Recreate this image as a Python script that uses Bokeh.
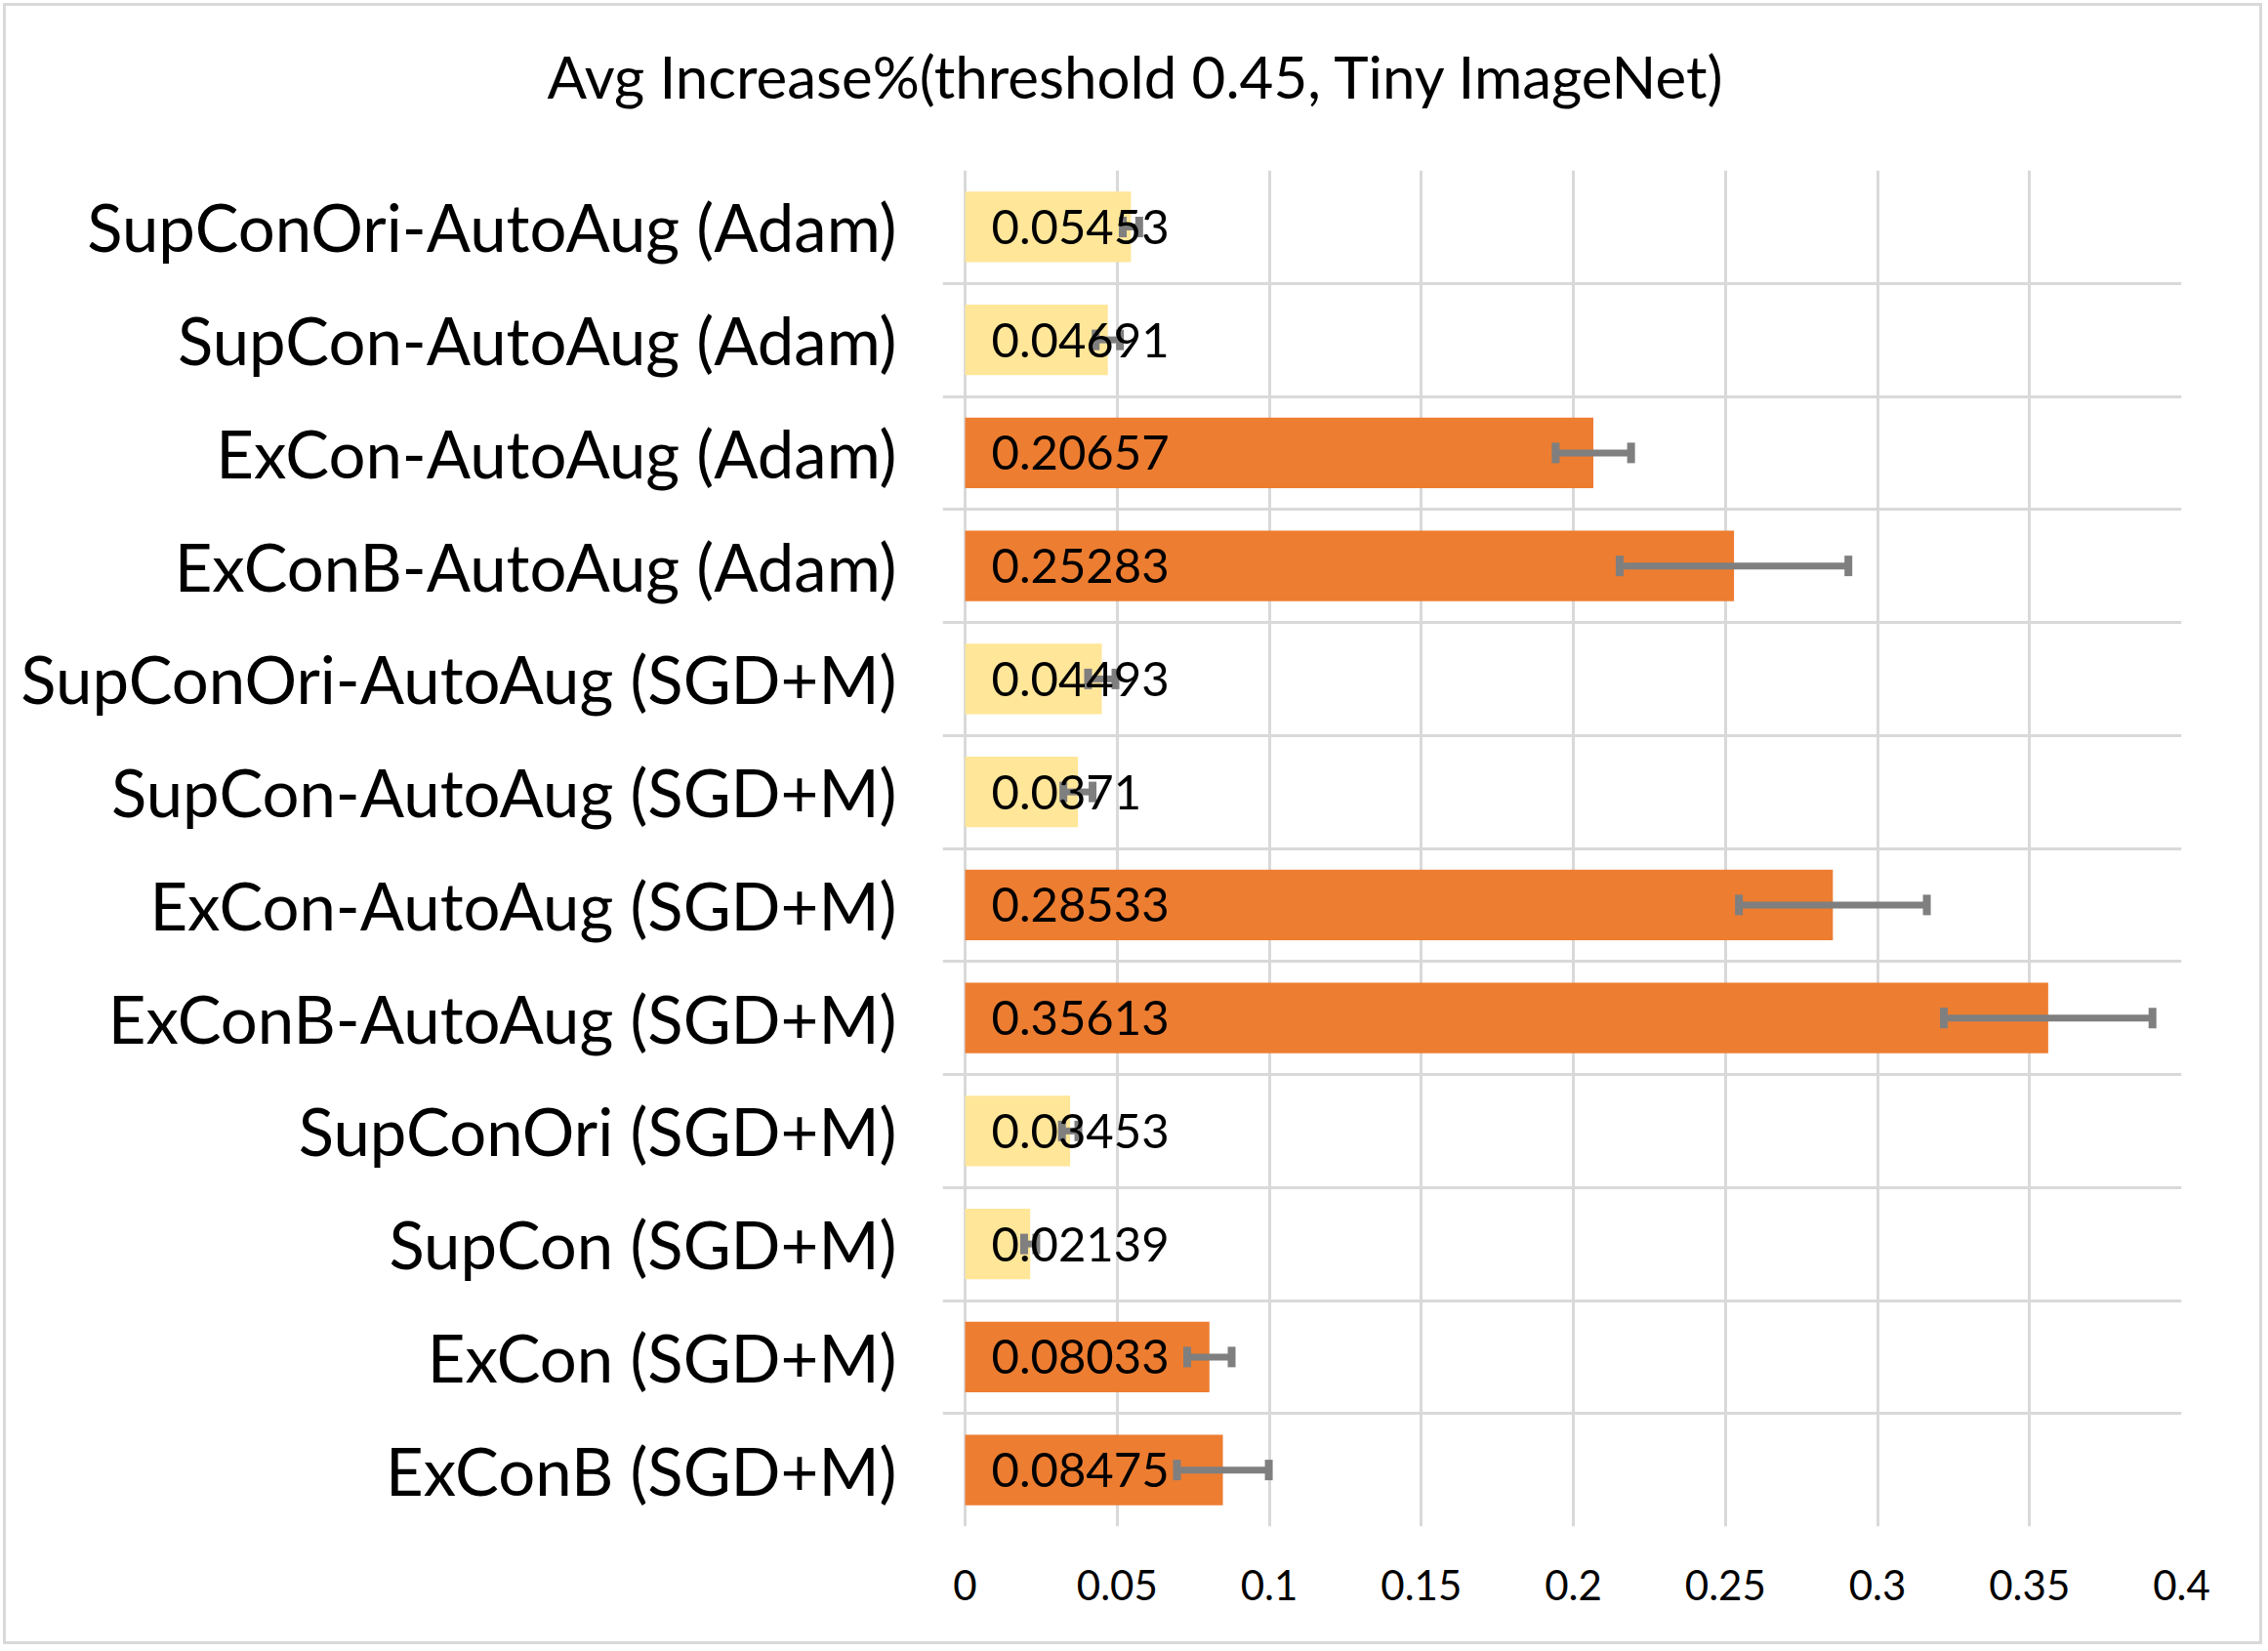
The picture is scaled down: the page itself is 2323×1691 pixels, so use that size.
from bokeh.plotting import figure
from bokeh.layouts import column
from bokeh.models import (ColumnDataSource, FactorRange, Range1d, FixedTicker,
                          Whisker, TeeHead, LabelSet, Title)
from bokeh.core.properties import value
from bokeh.embed import file_html
from bokeh.resources import INLINE

# ---------------- data (top to bottom as shown) ----------------
categories = [
    "SupConOri-AutoAug (Adam)",
    "SupCon-AutoAug (Adam)",
    "ExCon-AutoAug (Adam)",
    "ExConB-AutoAug (Adam)",
    "SupConOri-AutoAug (SGD+M)",
    "SupCon-AutoAug (SGD+M)",
    "ExCon-AutoAug (SGD+M)",
    "ExConB-AutoAug (SGD+M)",
    "SupConOri (SGD+M)",
    "SupCon (SGD+M)",
    "ExCon (SGD+M)",
    "ExConB (SGD+M)",
]
values = [0.05453, 0.04691, 0.20657, 0.25283, 0.04493, 0.0371,
          0.28533, 0.35613, 0.03453, 0.02139, 0.08033, 0.08475]
errors = [0.0027, 0.0040, 0.0124, 0.0376, 0.0045, 0.0048,
          0.0309, 0.0343, 0.0027, 0.0020, 0.0073, 0.0151]
value_labels = ["0.05453", "0.04691", "0.20657", "0.25283", "0.04493", "0.0371",
                "0.28533", "0.35613", "0.03453", "0.02139", "0.08033", "0.08475"]
groups = ["SupCon", "SupCon", "ExCon", "ExCon", "SupCon", "SupCon",
          "ExCon", "ExCon", "SupCon", "SupCon", "ExCon", "ExCon"]
group_colors = {"SupCon": "#FFE699", "ExCon": "#ED7D31"}

tick_values = [0, 0.05, 0.1, 0.15, 0.2, 0.25, 0.3, 0.35, 0.4]
tick_labels = ["0", "0.05", "0.1", "0.15", "0.2", "0.25", "0.3", "0.35", "0.4"]
title_text = "Avg Increase%(threshold 0.45, Tiny ImageNet)"

FONT = "Lato"
GRID = "#d9d9d9"

src = ColumnDataSource(dict(
    cat=categories,
    val=values,
    lo=[v - e for v, e in zip(values, errors)],
    hi=[v + e for v, e in zip(values, errors)],
    lab=value_labels,
    color=[group_colors[g] for g in groups],
    zero=[0] * len(values),
))

p = figure(
    width=2308, height=1675,
    y_range=FactorRange(factors=categories[::-1]),
    x_range=Range1d(-0.0074, 0.4),
    output_backend="svg", toolbar_location=None,
    min_border_left=959, min_border_right=80,
    min_border_top=168, min_border_bottom=118,
)
p.outline_line_color = None
p.background_fill_color = "white"
p.border_fill_color = "white"

# title: a thin spacer panel next to the frame, then the title text above it
spacer = Title(text=" ", text_font_size="2px", standoff=57, text_color="white")
p.add_layout(spacer, "above")
main_title = Title(text=title_text, align="left", offset=-405, standoff=0,
                   text_font=FONT, text_font_size="60px", text_font_style="normal",
                   text_color="#000000")
p.add_layout(main_title, "above")

# bars
p.hbar(y="cat", left=0, right="val", height=0.625, fill_color="color",
       line_color=None, source=src)

# error bars
whisk = Whisker(source=src, base="cat", lower="lo", upper="hi", dimension="width",
                line_color="#7f7f7f", line_width=7, level="annotation",
                upper_head=TeeHead(size=21, line_color="#7f7f7f", line_width=8),
                lower_head=TeeHead(size=21, line_color="#7f7f7f", line_width=8))
p.add_layout(whisk)

# data labels
labels = LabelSet(x="zero", y="cat", text="lab", source=src, x_offset=27,
                  text_baseline="middle", text_align="left",
                  text_font=value(FONT), text_font_size="49px",
                  text_color="#000000", level="overlay")
p.add_layout(labels)

# grids
p.xgrid.ticker = FixedTicker(ticks=tick_values)
p.xgrid.grid_line_color = GRID
p.xgrid.grid_line_width = 3
p.ygrid.ticker = FixedTicker(ticks=list(range(len(categories) + 1)))
p.ygrid.grid_line_color = GRID
p.ygrid.grid_line_width = 3

# x axis
p.xaxis.ticker = FixedTicker(ticks=tick_values)
p.xaxis.major_label_overrides = {t: s for t, s in zip(tick_values, tick_labels)}
p.xaxis.axis_line_color = None
p.xaxis.major_tick_line_color = None
p.xaxis.minor_tick_line_color = None
p.xaxis.major_tick_out = 0
p.xaxis.major_tick_in = 0
p.xaxis.major_label_standoff = 44
p.xaxis.major_label_text_font = FONT
p.xaxis.major_label_text_font_size = "42px"
p.xaxis.major_label_text_color = "#000000"

# y axis
p.yaxis.axis_line_color = None
p.yaxis.major_tick_line_color = None
p.yaxis.major_tick_out = 0
p.yaxis.major_tick_in = 0
p.yaxis.major_label_standoff = 47
p.yaxis.major_label_text_font = FONT
p.yaxis.major_label_text_font_size = "67px"
p.yaxis.major_label_text_color = "#000000"

# chart area border
layout = column(p, styles={"border": "3px solid #d9d9d9", "margin": "3px 0 0 3px",
                           "background-color": "white"})

open("out.html", "w").write(file_html(layout, INLINE))
